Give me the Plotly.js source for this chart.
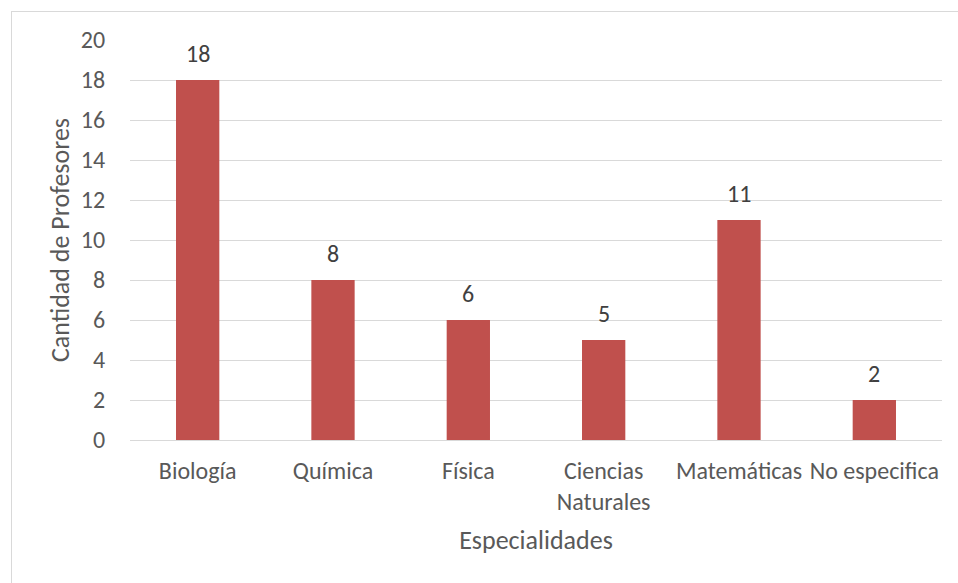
<!DOCTYPE html>
<html><head><meta charset="utf-8">
<script src="https://cdn.plot.ly/plotly-3.0.1.min.js"></script>
<style>
body{margin:0;padding:0;background:#fff;}
#frame{position:absolute;left:11px;top:11px;width:960px;height:600px;border:1px solid #D9D9D9;box-sizing:border-box;}
#chart{position:absolute;left:0;top:0;width:958px;height:583px;}
</style></head>
<body>
<div id="frame"></div>
<div id="chart"></div>
<script>
const categories = ["Biología","Química","Física","Ciencias<br>Naturales","Matemáticas","No especifica"];
const values = [18, 8, 6, 5, 11, 2];
const yTicks = [0,2,4,6,8,10,12,14,16,18,20];

const font = "Calibri, Carlito, Lato, sans-serif";
const labels = categories.map((c, i) => ({
  x: c, y: values[i], xref:'x', yref:'y', text: String(values[i]),
  showarrow:false, yanchor:'bottom', yshift:10,
  font:{size:24,color:'#404040',family:font}
}));
Plotly.newPlot('chart', [{
  type:'bar', x:categories, y:values,
  marker:{color:'#C0504D'},
  hoverinfo:'none'
}], {
  width:958, height:583,
  paper_bgcolor:'rgba(0,0,0,0)', plot_bgcolor:'rgba(0,0,0,0)',
  margin:{l:130,r:16,t:40,b:143},
  bargap:0.68,
  showlegend:false,
  annotations: labels,
  font:{family:font,color:'#595959',size:24},
  xaxis:{
    type:'category', showgrid:false, zeroline:false,
    showline:true, linecolor:'#D9D9D9', linewidth:1,
    ticks:'outside', ticklen:9, tickcolor:'rgba(0,0,0,0)',
    tickfont:{size:24,color:'#595959'},
    title:{text:'Especialidades', font:{size:26,color:'#595959'}, standoff:15}
  },
  yaxis:{
    range:[0,20], tickvals:yTicks, showgrid:true, gridcolor:'#D9D9D9',
    zeroline:false, showline:false,
    ticks:'outside', ticklen:19, tickcolor:'rgba(0,0,0,0)',
    tickfont:{size:24,color:'#595959'},
    title:{text:'Cantidad de Profesores', font:{size:26,color:'#595959'}, standoff:3}
  }
}, {displayModeBar:false, staticPlot:true});
</script>
</body></html>
